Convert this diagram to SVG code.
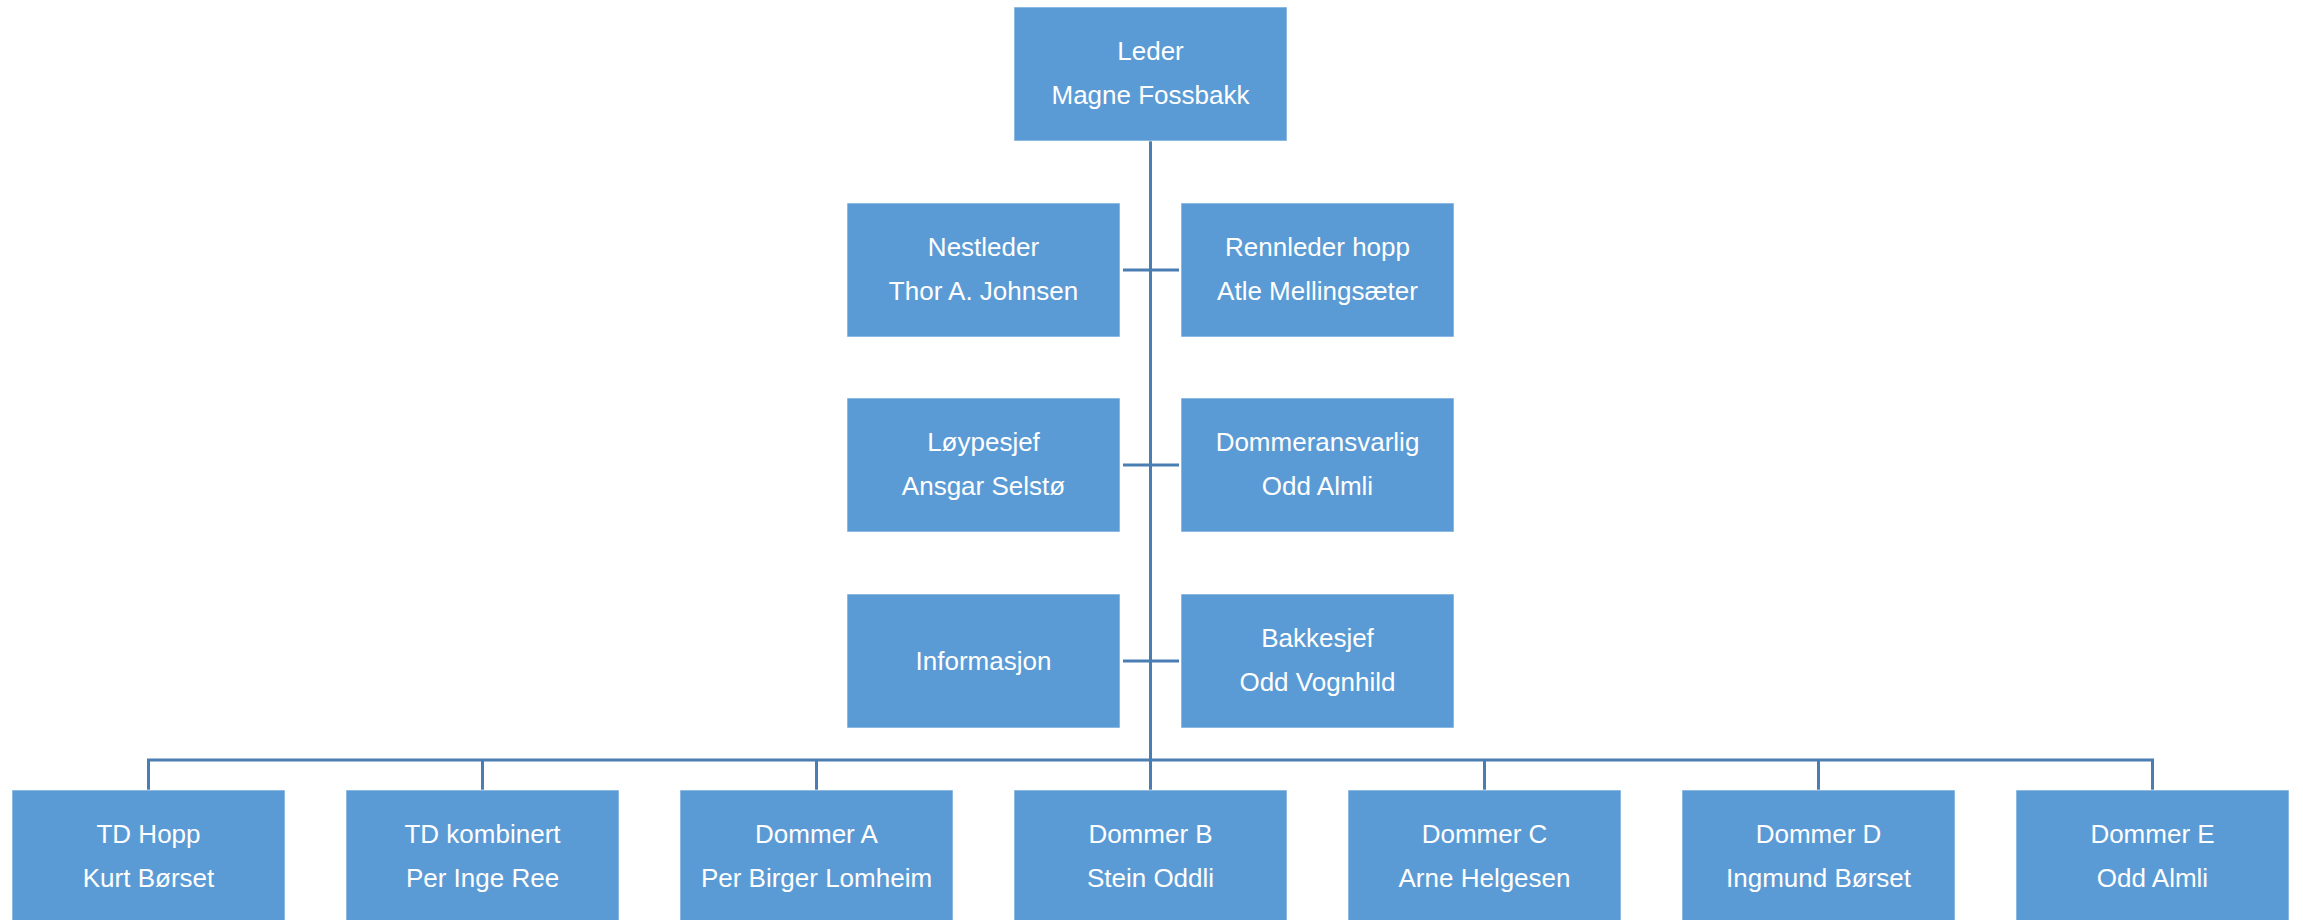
<svg xmlns="http://www.w3.org/2000/svg" width="2303" height="920" viewBox="0 0 2303 920">
<style>
.box{fill:#5B9BD5;stroke:#ffffff;stroke-opacity:0.6;stroke-width:1}
.t{font-family:"Liberation Sans",Arial,sans-serif;font-size:26px;fill:#ffffff;text-anchor:middle}
.c{stroke:#4A7DB1;stroke-width:3;fill:none}
</style>
<rect width="2303" height="920" fill="#ffffff"/>
<g id="connectors">
<path class="c" d="M1150.5 141 V790"/>
<path class="c" d="M148.5 790 V760 H2152.5 V790"/>
<path class="c" d="M482.5 760 V790 M816.5 760 V790 M1484.5 760 V790 M1818.5 760 V790"/>
<path class="c" d="M1123 270 H1179 M1123 465 H1179 M1123 661 H1179"/>
</g>
<g id="leder"><rect class="box" x="1014" y="7" width="273" height="134"/><text class="t" x="1150.5" y="60">Leder</text><text class="t" x="1150.5" y="104">Magne Fossbakk</text></g>
<g id="nestleder"><rect class="box" x="847" y="203" width="273" height="134"/><text class="t" x="983.5" y="256">Nestleder</text><text class="t" x="983.5" y="300">Thor A. Johnsen</text></g>
<g id="rennleder"><rect class="box" x="1181" y="203" width="273" height="134"/><text class="t" x="1317.5" y="256">Rennleder hopp</text><text class="t" x="1317.5" y="300">Atle Mellingsæter</text></g>
<g id="loypesjef"><rect class="box" x="847" y="398" width="273" height="134"/><text class="t" x="983.5" y="451">Løypesjef</text><text class="t" x="983.5" y="495">Ansgar Selstø</text></g>
<g id="dommeransvarlig"><rect class="box" x="1181" y="398" width="273" height="134"/><text class="t" x="1317.5" y="451">Dommeransvarlig</text><text class="t" x="1317.5" y="495">Odd Almli</text></g>
<g id="informasjon"><rect class="box" x="847" y="594" width="273" height="134"/><text class="t" x="983.5" y="670">Informasjon</text></g>
<g id="bakkesjef"><rect class="box" x="1181" y="594" width="273" height="134"/><text class="t" x="1317.5" y="647">Bakkesjef</text><text class="t" x="1317.5" y="691">Odd Vognhild</text></g>
<g id="td-hopp"><rect class="box" x="12" y="790" width="273" height="134"/><text class="t" x="148.5" y="843">TD Hopp</text><text class="t" x="148.5" y="887">Kurt Børset</text></g>
<g id="td-kombinert"><rect class="box" x="346" y="790" width="273" height="134"/><text class="t" x="482.5" y="843">TD kombinert</text><text class="t" x="482.5" y="887">Per Inge Ree</text></g>
<g id="dommer-a"><rect class="box" x="680" y="790" width="273" height="134"/><text class="t" x="816.5" y="843">Dommer A</text><text class="t" x="816.5" y="887">Per Birger Lomheim</text></g>
<g id="dommer-b"><rect class="box" x="1014" y="790" width="273" height="134"/><text class="t" x="1150.5" y="843">Dommer B</text><text class="t" x="1150.5" y="887">Stein Oddli</text></g>
<g id="dommer-c"><rect class="box" x="1348" y="790" width="273" height="134"/><text class="t" x="1484.5" y="843">Dommer C</text><text class="t" x="1484.5" y="887">Arne Helgesen</text></g>
<g id="dommer-d"><rect class="box" x="1682" y="790" width="273" height="134"/><text class="t" x="1818.5" y="843">Dommer D</text><text class="t" x="1818.5" y="887">Ingmund Børset</text></g>
<g id="dommer-e"><rect class="box" x="2016" y="790" width="273" height="134"/><text class="t" x="2152.5" y="843">Dommer E</text><text class="t" x="2152.5" y="887">Odd Almli</text></g>
</svg>
